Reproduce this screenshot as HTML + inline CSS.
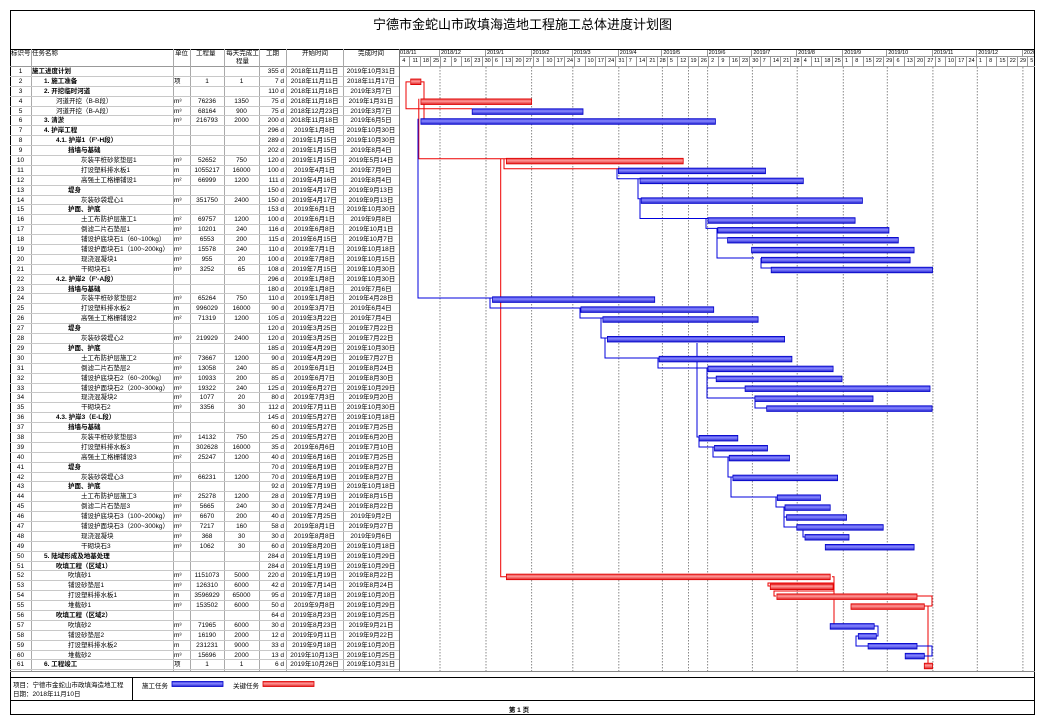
<!DOCTYPE html>
<html><head><meta charset="utf-8">
<style>
*{margin:0;padding:0;box-sizing:border-box}
body{width:1051px;height:726px;background:#fff;position:relative;overflow:hidden;font-family:"Liberation Sans","Noto Sans CJK SC",sans-serif;color:#000}
.abs{position:absolute}
#frame{position:absolute;left:10px;top:10px;width:1025px;height:705px;border:1px solid #000}
#title{position:absolute;left:10px;top:14px;width:1025px;text-align:center;font-size:13px;font-family:"Liberation Sans","WenQuanYi Zen Hei",sans-serif}
#hdr{position:absolute;left:10px;top:49px;width:1025px;height:18px;border-top:1px solid #000;border-bottom:1px solid #999}
.h{position:absolute;top:0;font-size:6.5px;line-height:8px}
#rows{position:absolute;left:10px;top:67px;width:389px}
.r{position:relative;height:9.9px;border-bottom:1px solid #c8c8c8;font-size:6.5px;line-height:9px;white-space:nowrap}
.r span{position:absolute;top:0}
.a{left:0;width:21px;text-align:center}
.n{left:21px}
.l1{left:22px}.l2{left:34px}.l3{left:46px}.l4{left:58px}.l5{left:71px}
.b{font-weight:bold}
.u{left:164px}
.q{left:180px;width:34px;text-align:center}
.w{left:214px;width:35px;text-align:center}
.d{left:249px;width:25px;text-align:right}
.s{left:276px;width:57px;text-align:center}
.e{left:333px;width:56px;text-align:center}
.vl{position:absolute;top:49px;height:622px;width:1px;background:#aaa}
#months{position:absolute;left:399px;top:50px;height:7px;display:flex;font-size:5.5px;line-height:7px;overflow:hidden;width:635px;border-bottom:1px solid #999}
#months div{border-right:1px solid #999;padding-left:1px;flex:none;overflow:hidden;white-space:nowrap}
#weeks{position:absolute;left:400.2px;top:57px;height:9px;display:flex;font-size:5.5px;line-height:9px;overflow:hidden;width:634px}
#weeks div{width:10.304px;flex:none;border-right:1px solid #999;padding-left:2px;white-space:nowrap}
</style></head><body>
<div id="frame"></div>
<div id="title">宁德市金蛇山市政填海造地工程施工总体进度计划图</div>
<div id="hdr">
<span class="h" style="left:1px">标识号</span>
<span class="h" style="left:22px">任务名称</span>
<span class="h" style="left:165px">单位</span>
<span class="h" style="left:186px">工程量</span>
<span class="h" style="left:216px;width:33px;text-align:center">每天完成工程量</span>
<span class="h" style="left:256px">工期</span>
<span class="h" style="left:292px">开始时间</span>
<span class="h" style="left:348px">完成时间</span>
</div>
<div id="months">
<div style="width:41px">018/11</div><div style="width:46px">2018/12</div><div style="width:45.6px">2019/1</div><div style="width:41.2px">2019/2</div><div style="width:46px">2019/3</div><div style="width:43.6px">2019/4</div><div style="width:45.2px">2019/5</div><div style="width:44.8px">2019/6</div><div style="width:44.8px">2019/7</div><div style="width:46.1px">2019/8</div><div style="width:44px">2019/9</div><div style="width:45.6px">2019/10</div><div style="width:44.4px">2019/11</div><div style="width:45.6px">2019/12</div><div style="width:20px">2020</div>
</div>
<div id="weeks">
<div>4</div><div>11</div><div>18</div><div>25</div><div>2</div><div>9</div><div>16</div><div>23</div><div>30</div><div>6</div><div>13</div><div>20</div><div>27</div><div>3</div><div>10</div><div>17</div><div>24</div><div>3</div><div>10</div><div>17</div><div>24</div><div>31</div><div>7</div><div>14</div><div>21</div><div>28</div><div>5</div><div>12</div><div>19</div><div>26</div><div>2</div><div>9</div><div>16</div><div>23</div><div>30</div><div>7</div><div>14</div><div>21</div><div>28</div><div>4</div><div>11</div><div>18</div><div>25</div><div>1</div><div>8</div><div>15</div><div>22</div><div>29</div><div>6</div><div>13</div><div>20</div><div>27</div><div>3</div><div>10</div><div>17</div><div>24</div><div>1</div><div>8</div><div>15</div><div>22</div><div>29</div><div>5</div>
</div>
<div class="vl" style="left:31px"></div><div class="vl" style="left:173px"></div><div class="vl" style="left:190px"></div><div class="vl" style="left:224px"></div><div class="vl" style="left:258.7px"></div><div class="vl" style="left:286px"></div><div class="vl" style="left:343px"></div><div class="vl" style="left:399px;background:#777"></div>
<div id="rows">
<div class="r"><span class="a">1</span><span class="l1 b">施工进度计划</span><span class="d">355 d</span><span class="s">2018年11月11日</span><span class="e">2019年10月31日</span></div>
<div class="r"><span class="a">2</span><span class="l2 b">1. 施工准备</span><span class="u">项</span><span class="q">1</span><span class="w">1</span><span class="d">7 d</span><span class="s">2018年11月11日</span><span class="e">2018年11月17日</span></div>
<div class="r"><span class="a">3</span><span class="l2 b">2. 开挖临时河道</span><span class="d">110 d</span><span class="s">2018年11月18日</span><span class="e">2019年3月7日</span></div>
<div class="r"><span class="a">4</span><span class="l3">河道开挖（B-B段）</span><span class="u">m³</span><span class="q">76236</span><span class="w">1350</span><span class="d">75 d</span><span class="s">2018年11月18日</span><span class="e">2019年1月31日</span></div>
<div class="r"><span class="a">5</span><span class="l3">河道开挖（B-A段）</span><span class="u">m³</span><span class="q">68164</span><span class="w">900</span><span class="d">75 d</span><span class="s">2018年12月23日</span><span class="e">2019年3月7日</span></div>
<div class="r"><span class="a">6</span><span class="l2 b">3. 清淤</span><span class="u">m³</span><span class="q">216793</span><span class="w">2000</span><span class="d">200 d</span><span class="s">2018年11月18日</span><span class="e">2019年6月5日</span></div>
<div class="r"><span class="a">7</span><span class="l2 b">4. 护岸工程</span><span class="d">296 d</span><span class="s">2019年1月8日</span><span class="e">2019年10月30日</span></div>
<div class="r"><span class="a">8</span><span class="l3 b">4.1. 护岸1（F'-H段）</span><span class="d">289 d</span><span class="s">2019年1月15日</span><span class="e">2019年10月30日</span></div>
<div class="r"><span class="a">9</span><span class="l4 b">挡墙与基础</span><span class="d">202 d</span><span class="s">2019年1月15日</span><span class="e">2019年8月4日</span></div>
<div class="r"><span class="a">10</span><span class="l5">灰装平桩砂浆垫层1</span><span class="u">m³</span><span class="q">52652</span><span class="w">750</span><span class="d">120 d</span><span class="s">2019年1月15日</span><span class="e">2019年5月14日</span></div>
<div class="r"><span class="a">11</span><span class="l5">打设塑料排水板1</span><span class="u">m</span><span class="q">1055217</span><span class="w">16000</span><span class="d">100 d</span><span class="s">2019年4月1日</span><span class="e">2019年7月9日</span></div>
<div class="r"><span class="a">12</span><span class="l5">高强土工格栅铺设1</span><span class="u">m²</span><span class="q">66999</span><span class="w">1200</span><span class="d">111 d</span><span class="s">2019年4月16日</span><span class="e">2019年8月4日</span></div>
<div class="r"><span class="a">13</span><span class="l4 b">堤身</span><span class="d">150 d</span><span class="s">2019年4月17日</span><span class="e">2019年9月13日</span></div>
<div class="r"><span class="a">14</span><span class="l5">灰装砂袋堤心1</span><span class="u">m³</span><span class="q">351750</span><span class="w">2400</span><span class="d">150 d</span><span class="s">2019年4月17日</span><span class="e">2019年9月13日</span></div>
<div class="r"><span class="a">15</span><span class="l4 b">护面、护底</span><span class="d">153 d</span><span class="s">2019年6月1日</span><span class="e">2019年10月30日</span></div>
<div class="r"><span class="a">16</span><span class="l5">土工布防护层施工1</span><span class="u">m²</span><span class="q">69757</span><span class="w">1200</span><span class="d">100 d</span><span class="s">2019年6月1日</span><span class="e">2019年9月8日</span></div>
<div class="r"><span class="a">17</span><span class="l5">倒滤二片石垫层1</span><span class="u">m³</span><span class="q">10201</span><span class="w">240</span><span class="d">116 d</span><span class="s">2019年6月8日</span><span class="e">2019年10月1日</span></div>
<div class="r"><span class="a">18</span><span class="l5">铺设护底块石1（60~100kg）</span><span class="u">m³</span><span class="q">6553</span><span class="w">200</span><span class="d">115 d</span><span class="s">2019年6月15日</span><span class="e">2019年10月7日</span></div>
<div class="r"><span class="a">19</span><span class="l5">铺设护面块石1（100~200kg）</span><span class="u">m³</span><span class="q">15578</span><span class="w">240</span><span class="d">110 d</span><span class="s">2019年7月1日</span><span class="e">2019年10月18日</span></div>
<div class="r"><span class="a">20</span><span class="l5">现浇混凝块1</span><span class="u">m³</span><span class="q">955</span><span class="w">20</span><span class="d">100 d</span><span class="s">2019年7月8日</span><span class="e">2019年10月15日</span></div>
<div class="r"><span class="a">21</span><span class="l5">干砌块石1</span><span class="u">m³</span><span class="q">3252</span><span class="w">65</span><span class="d">108 d</span><span class="s">2019年7月15日</span><span class="e">2019年10月30日</span></div>
<div class="r"><span class="a">22</span><span class="l3 b">4.2. 护岸2（F'-A段）</span><span class="d">296 d</span><span class="s">2019年1月8日</span><span class="e">2019年10月30日</span></div>
<div class="r"><span class="a">23</span><span class="l4 b">挡墙与基础</span><span class="d">180 d</span><span class="s">2019年1月8日</span><span class="e">2019年7月6日</span></div>
<div class="r"><span class="a">24</span><span class="l5">灰装平桩砂浆垫层2</span><span class="u">m³</span><span class="q">65264</span><span class="w">750</span><span class="d">110 d</span><span class="s">2019年1月8日</span><span class="e">2019年4月28日</span></div>
<div class="r"><span class="a">25</span><span class="l5">打设塑料排水板2</span><span class="u">m</span><span class="q">996029</span><span class="w">16000</span><span class="d">90 d</span><span class="s">2019年3月7日</span><span class="e">2019年6月4日</span></div>
<div class="r"><span class="a">26</span><span class="l5">高强土工格栅铺设2</span><span class="u">m²</span><span class="q">71319</span><span class="w">1200</span><span class="d">105 d</span><span class="s">2019年3月22日</span><span class="e">2019年7月4日</span></div>
<div class="r"><span class="a">27</span><span class="l4 b">堤身</span><span class="d">120 d</span><span class="s">2019年3月25日</span><span class="e">2019年7月22日</span></div>
<div class="r"><span class="a">28</span><span class="l5">灰装砂袋堤心2</span><span class="u">m³</span><span class="q">219929</span><span class="w">2400</span><span class="d">120 d</span><span class="s">2019年3月25日</span><span class="e">2019年7月22日</span></div>
<div class="r"><span class="a">29</span><span class="l4 b">护面、护底</span><span class="d">185 d</span><span class="s">2019年4月29日</span><span class="e">2019年10月30日</span></div>
<div class="r"><span class="a">30</span><span class="l5">土工布防护层施工2</span><span class="u">m²</span><span class="q">73667</span><span class="w">1200</span><span class="d">90 d</span><span class="s">2019年4月29日</span><span class="e">2019年7月27日</span></div>
<div class="r"><span class="a">31</span><span class="l5">倒滤二片石垫层2</span><span class="u">m³</span><span class="q">13058</span><span class="w">240</span><span class="d">85 d</span><span class="s">2019年6月1日</span><span class="e">2019年8月24日</span></div>
<div class="r"><span class="a">32</span><span class="l5">铺设护底块石2（60~200kg）</span><span class="u">m³</span><span class="q">10933</span><span class="w">200</span><span class="d">85 d</span><span class="s">2019年6月7日</span><span class="e">2019年8月30日</span></div>
<div class="r"><span class="a">33</span><span class="l5">铺设护面块石2（200~300kg）</span><span class="u">m³</span><span class="q">19322</span><span class="w">240</span><span class="d">125 d</span><span class="s">2019年6月27日</span><span class="e">2019年10月29日</span></div>
<div class="r"><span class="a">34</span><span class="l5">现浇混凝块2</span><span class="u">m³</span><span class="q">1077</span><span class="w">20</span><span class="d">80 d</span><span class="s">2019年7月3日</span><span class="e">2019年9月20日</span></div>
<div class="r"><span class="a">35</span><span class="l5">干砌块石2</span><span class="u">m³</span><span class="q">3356</span><span class="w">30</span><span class="d">112 d</span><span class="s">2019年7月11日</span><span class="e">2019年10月30日</span></div>
<div class="r"><span class="a">36</span><span class="l3 b">4.3. 护岸3（E-L段）</span><span class="d">145 d</span><span class="s">2019年5月27日</span><span class="e">2019年10月18日</span></div>
<div class="r"><span class="a">37</span><span class="l4 b">挡墙与基础</span><span class="d">60 d</span><span class="s">2019年5月27日</span><span class="e">2019年7月25日</span></div>
<div class="r"><span class="a">38</span><span class="l5">灰装平桩砂浆垫层3</span><span class="u">m³</span><span class="q">14132</span><span class="w">750</span><span class="d">25 d</span><span class="s">2019年5月27日</span><span class="e">2019年6月20日</span></div>
<div class="r"><span class="a">39</span><span class="l5">打设塑料排水板3</span><span class="u">m</span><span class="q">302628</span><span class="w">16000</span><span class="d">35 d</span><span class="s">2019年6月6日</span><span class="e">2019年7月10日</span></div>
<div class="r"><span class="a">40</span><span class="l5">高强土工格栅铺设3</span><span class="u">m²</span><span class="q">25247</span><span class="w">1200</span><span class="d">40 d</span><span class="s">2019年6月16日</span><span class="e">2019年7月25日</span></div>
<div class="r"><span class="a">41</span><span class="l4 b">堤身</span><span class="d">70 d</span><span class="s">2019年6月19日</span><span class="e">2019年8月27日</span></div>
<div class="r"><span class="a">42</span><span class="l5">灰装砂袋堤心3</span><span class="u">m³</span><span class="q">66231</span><span class="w">1200</span><span class="d">70 d</span><span class="s">2019年6月19日</span><span class="e">2019年8月27日</span></div>
<div class="r"><span class="a">43</span><span class="l4 b">护面、护底</span><span class="d">92 d</span><span class="s">2019年7月19日</span><span class="e">2019年10月18日</span></div>
<div class="r"><span class="a">44</span><span class="l5">土工布防护层施工3</span><span class="u">m²</span><span class="q">25278</span><span class="w">1200</span><span class="d">28 d</span><span class="s">2019年7月19日</span><span class="e">2019年8月15日</span></div>
<div class="r"><span class="a">45</span><span class="l5">倒滤二片石垫层3</span><span class="u">m³</span><span class="q">5665</span><span class="w">240</span><span class="d">30 d</span><span class="s">2019年7月24日</span><span class="e">2019年8月22日</span></div>
<div class="r"><span class="a">46</span><span class="l5">铺设护底块石3（100~200kg）</span><span class="u">m³</span><span class="q">6670</span><span class="w">200</span><span class="d">40 d</span><span class="s">2019年7月25日</span><span class="e">2019年9月2日</span></div>
<div class="r"><span class="a">47</span><span class="l5">铺设护面块石3（200~300kg）</span><span class="u">m³</span><span class="q">7217</span><span class="w">160</span><span class="d">58 d</span><span class="s">2019年8月1日</span><span class="e">2019年9月27日</span></div>
<div class="r"><span class="a">48</span><span class="l5">现浇混凝块</span><span class="u">m³</span><span class="q">368</span><span class="w">30</span><span class="d">30 d</span><span class="s">2019年8月8日</span><span class="e">2019年9月6日</span></div>
<div class="r"><span class="a">49</span><span class="l5">干砌块石3</span><span class="u">m³</span><span class="q">1062</span><span class="w">30</span><span class="d">60 d</span><span class="s">2019年8月20日</span><span class="e">2019年10月18日</span></div>
<div class="r"><span class="a">50</span><span class="l2 b">5. 陆域形成及地基处理</span><span class="d">284 d</span><span class="s">2019年1月19日</span><span class="e">2019年10月29日</span></div>
<div class="r"><span class="a">51</span><span class="l3 b">吹填工程（区域1）</span><span class="d">284 d</span><span class="s">2019年1月19日</span><span class="e">2019年10月29日</span></div>
<div class="r"><span class="a">52</span><span class="l4">吹填砂1</span><span class="u">m³</span><span class="q">1151073</span><span class="w">5000</span><span class="d">220 d</span><span class="s">2019年1月19日</span><span class="e">2019年8月22日</span></div>
<div class="r"><span class="a">53</span><span class="l4">铺设砂垫层1</span><span class="u">m³</span><span class="q">126310</span><span class="w">6000</span><span class="d">42 d</span><span class="s">2019年7月14日</span><span class="e">2019年8月24日</span></div>
<div class="r"><span class="a">54</span><span class="l4">打设塑料排水板1</span><span class="u">m</span><span class="q">3596929</span><span class="w">65000</span><span class="d">95 d</span><span class="s">2019年7月18日</span><span class="e">2019年10月20日</span></div>
<div class="r"><span class="a">55</span><span class="l4">堆载砂1</span><span class="u">m³</span><span class="q">153502</span><span class="w">6000</span><span class="d">50 d</span><span class="s">2019年9月8日</span><span class="e">2019年10月29日</span></div>
<div class="r"><span class="a">56</span><span class="l3 b">吹填工程（区域2）</span><span class="d">64 d</span><span class="s">2019年8月23日</span><span class="e">2019年10月25日</span></div>
<div class="r"><span class="a">57</span><span class="l4">吹填砂2</span><span class="u">m³</span><span class="q">71965</span><span class="w">6000</span><span class="d">30 d</span><span class="s">2019年8月23日</span><span class="e">2019年9月21日</span></div>
<div class="r"><span class="a">58</span><span class="l4">铺设砂垫层2</span><span class="u">m³</span><span class="q">16190</span><span class="w">2000</span><span class="d">12 d</span><span class="s">2019年9月11日</span><span class="e">2019年9月22日</span></div>
<div class="r"><span class="a">59</span><span class="l4">打设塑料排水板2</span><span class="u">m</span><span class="q">231231</span><span class="w">9000</span><span class="d">33 d</span><span class="s">2019年9月18日</span><span class="e">2019年10月20日</span></div>
<div class="r"><span class="a">60</span><span class="l4">堆载砂2</span><span class="u">m³</span><span class="q">15696</span><span class="w">2000</span><span class="d">13 d</span><span class="s">2019年10月13日</span><span class="e">2019年10月25日</span></div>
<div class="r"><span class="a">61</span><span class="l2 b">6. 工程竣工</span><span class="u">项</span><span class="q">1</span><span class="w">1</span><span class="d">6 d</span><span class="s">2019年10月26日</span><span class="e">2019年10月31日</span></div>
</div>
<div class="abs" style="left:10px;top:671px;width:1025px;height:1px;background:#888"></div>
<div class="abs" style="left:10px;top:677px;width:1025px;height:1px;background:#000"></div>
<div class="abs" style="left:10px;top:700px;width:1025px;height:1px;background:#000"></div>
<div class="abs" style="left:132px;top:677px;width:1px;height:23px;background:#000"></div>
<div class="abs" style="left:13px;top:681px;font-size:6.5px;line-height:9px">项目：宁德市金蛇山市政填海造地工程<br>日期：2018年11月10日</div>
<div class="abs" style="left:142px;top:680px;font-size:6.5px">施工任务</div>
<div class="abs" style="left:233px;top:680px;font-size:6.5px">关键任务</div>
<div class="abs" style="left:129px;top:704px;width:780px;text-align:center;font-size:6.5px;font-weight:bold">第 1 页</div>
<svg class="abs" style="left:0;top:0" width="1051" height="726" id="g">
<defs>
<linearGradient id="bg" x1="0" y1="0" x2="0" y2="1"><stop offset="0" stop-color="#3030e0"/><stop offset="0.4" stop-color="#8a8aff"/><stop offset="1" stop-color="#2020d0"/></linearGradient>
<linearGradient id="rg" x1="0" y1="0" x2="0" y2="1"><stop offset="0" stop-color="#e83030"/><stop offset="0.4" stop-color="#ff9a9a"/><stop offset="1" stop-color="#e02020"/></linearGradient>
</defs>
<g stroke="#888" stroke-width="1" stroke-dasharray="1.5,1.5">
<line x1="440" y1="67" x2="440" y2="671"/><line x1="486" y1="67" x2="486" y2="671"/><line x1="531.6" y1="67" x2="531.6" y2="671"/><line x1="572.8" y1="67" x2="572.8" y2="671"/><line x1="618.8" y1="67" x2="618.8" y2="671"/><line x1="662.4" y1="67" x2="662.4" y2="671"/><line x1="688.5" y1="67" x2="688.5" y2="671"/><line x1="707.6" y1="67" x2="707.6" y2="671"/><line x1="752.4" y1="67" x2="752.4" y2="671"/><line x1="797.2" y1="67" x2="797.2" y2="671"/><line x1="843.3" y1="67" x2="843.3" y2="671"/><line x1="887.3" y1="67" x2="887.3" y2="671"/><line x1="932.9" y1="67" x2="932.9" y2="671"/><line x1="977.3" y1="67" x2="977.3" y2="671"/><line x1="1022.9" y1="67" x2="1022.9" y2="671"/>
</g>
<g fill="none" stroke-width="1">
<polyline stroke="#e00" points="410,81.9 406,81.9 406,108.7 472,108.7"/>
<polyline stroke="#e00" points="421,81.9 424,81.9 424,98.7"/>
<polyline stroke="#e00" points="424,98.7 424,118.7"/>
<polyline stroke="#e00" points="418.8,98.7 418.8,158.7 506,158.7"/>
<polyline stroke="#e00" points="504,158.7 504,168.7 618,168.7"/>
<polyline stroke="#e00" points="500.7,158.7 500.7,576.7 506,576.7"/>
<polyline stroke="#00d" points="418,118.7 418,298 492,298"/>
<polyline stroke="#00d" points="617,168.7 617,178.7 640,178.7"/>
<polyline stroke="#00d" points="638,178.7 638,198.7 641,198.7"/>
<polyline stroke="#00d" points="640,198.7 640,218.5 708,218.5"/>
<polyline stroke="#00d" points="706,218.5 706,228.4 718,228.4"/>
<polyline stroke="#00d" points="717,228.4 717,258 754,258"/>
<polyline stroke="#00d" points="717,238 727,238"/>
<polyline stroke="#00d" points="761,258 761,268 771,268"/>
<polyline stroke="#00d" points="490,298 490,308 581,308"/>
<polyline stroke="#00d" points="580,308 580,318 603,318"/>
<polyline stroke="#00d" points="601,318 601,338 607,338"/>
<polyline stroke="#00d" points="605,338 605,358 659,358"/>
<polyline stroke="#00d" points="658,358 658,368 708,368"/>
<polyline stroke="#00d" points="697,343 697,437 699,437"/>
<polyline stroke="#00d" points="707,368 707,398 757,398"/>
<polyline stroke="#00d" points="707,378 716,378"/>
<polyline stroke="#00d" points="707,388 745,388"/>
<polyline stroke="#00d" points="755,398 755,408 767,408"/>
<polyline stroke="#00d" points="699,437 699,447 714,447"/>
<polyline stroke="#00d" points="713,447 713,457 729,457"/>
<polyline stroke="#00d" points="728,457 728,477 733,477"/>
<polyline stroke="#00d" points="731,477 731,497 777,497"/>
<polyline stroke="#00d" points="776,497 776,507 785,507"/>
<polyline stroke="#00d" points="784,507 784,527 797,527"/>
<polyline stroke="#00d" points="784,517 787,517"/>
<polyline stroke="#00d" points="803,527 803,537 825,537"/>
<polyline stroke="#e00" points="832,576.7 834,576.7 834,626 830,626"/>
<polyline stroke="#e00" points="770,586 768,586 768,583 834,583"/>
<polyline stroke="#e00" points="776,596 774,596 774,591 834,591"/>
<polyline stroke="#e00" points="917,596 932,596 932,606 924,606"/>
<polyline stroke="#e00" points="928,606 928,666 928,666"/>
<polyline stroke="#00d" points="874,626 878,626 878,636 876,636"/>
<polyline stroke="#00d" points="858,636 856,636 856,646 868,646"/>
<polyline stroke="#00d" points="917,646 932,646 932,656 924,656"/>
</g>
<g id="bars"></g>
<rect x="172" y="681.5" width="51" height="5" fill="url(#bg)" stroke="#0000c8" stroke-width="0.8"/>
<rect x="263" y="681.5" width="51" height="5" fill="url(#rg)" stroke="#d00" stroke-width="0.8"/>
</svg>
<script>
var B=[[2,410.7,420.9,1],[4,420.9,531.6,1],[5,472.2,583,0],[6,420.9,715.4,0],[10,506.4,683.2,1],[11,618.4,765.5,0],[12,640,803.3,0],[14,641.2,862.4,0],[16,708,855.1,0],[17,717.8,888.9,0],[18,727.6,898.3,0],[19,751.6,914.1,0],[20,761.4,910.1,0],[21,771.2,932.5,0],[24,492.5,654.7,0],[25,580.9,713.7,0],[26,602.9,758.1,0],[28,607.4,784.6,0],[30,659.1,791.9,0],[31,708,833.1,0],[32,716.2,842,0],[33,745.1,930,0],[34,754.9,873,0],[35,766.7,932.1,0],[38,699.1,737.8,0],[39,714.5,767.5,0],[40,729.2,789.5,0],[42,732.9,837.6,0],[44,777.3,820.4,0],[45,785,830.2,0],[46,786.6,846.5,0],[47,796.8,883.2,0],[48,805,849,0],[49,825.3,914.1,0],[52,506.4,830.2,1],[53,770.3,833.1,1],[54,776.9,917,1],[55,851,924.3,1],[57,830.2,874.2,0],[58,858.3,876.3,0],[59,868.1,917,0],[60,905.2,924.3,0],[61,924.3,932.5,1]];
var g=document.getElementById('bars'),h='';
B.forEach(function(b){var y=67+(b[0]-0.5)*9.9-2.8;
h+='<rect x="'+b[1]+'" y="'+y.toFixed(1)+'" width="'+(b[2]-b[1]).toFixed(1)+'" height="5.6" fill="url(#'+(b[3]?'rg':'bg')+')" stroke="'+(b[3]?'#d00':'#0000c8')+'" stroke-width="0.8"/>';});
g.innerHTML=h;
</script>
</body></html>
